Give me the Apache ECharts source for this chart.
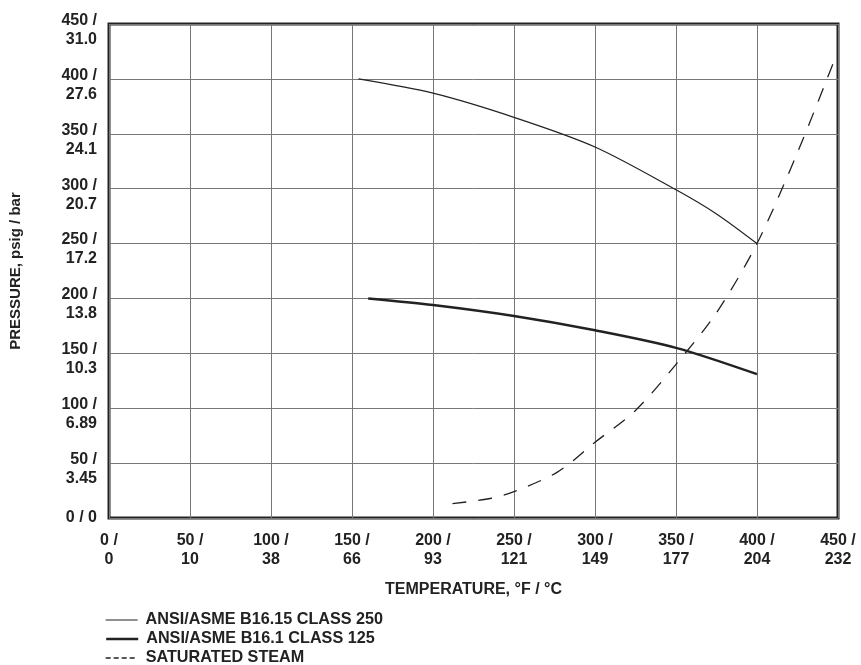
<!DOCTYPE html>
<html>
<head>
<meta charset="utf-8">
<script src="https://cdn.jsdelivr.net/npm/echarts@6/dist/echarts.min.js"></script>
<style>html,body{margin:0;padding:0;background:#fff;}#c{width:861px;height:665px;}</style>
</head>
<body>
<div id="c"></div>
<script>
// Tick labels
var xTicksF = [0, 50, 100, 150, 200, 250, 300, 350, 400, 450];
var xTicksC = ['0', '10', '38', '66', '93', '121', '149', '177', '204', '232'];
var yTicksPsig = [0, 50, 100, 150, 200, 250, 300, 350, 400, 450];
var yTicksBar = ['0', '3.45', '6.89', '10.3', '13.8', '17.2', '20.7', '24.1', '27.6', '31.0'];

// Series names
var seriesNames = ['ANSI/ASME B16.15 CLASS 250', 'ANSI/ASME B16.1 CLASS 125', 'SATURATED STEAM'];

// [temperature °F, pressure psig]
var class250 = [[154, 400], [200, 387], [250, 365], [300, 338], [350, 299], [375, 277], [400, 250]];
var class125 = [[160, 200], [200, 194], [250, 184], [300, 171], [350, 155], [400, 131]];
var steam = [[212, 13], [236, 18], [250, 24], [277, 42], [300, 69], [325, 98], [350, 140], [375, 187], [400, 250], [425, 333], [448, 418]];

var chart = echarts.init(document.getElementById('c'), null, {renderer: 'canvas'});
var FONT = '"Liberation Sans", Arial, sans-serif';
var TXT = '#222';

function legendFor(name, top, lineStyle) {
  return {
    orient: 'vertical', left: 105, top: top, padding: 0, itemWidth: 32, itemHeight: 14,
    itemStyle: {opacity: 0},
    textStyle: {fontFamily: FONT, fontWeight: 'bold', fontSize: 16.2, color: TXT, lineHeight: 14, padding: [0, 0, 0, 3]},
    data: [{name: name, lineStyle: lineStyle}]
  };
}

chart.setOption({
  animation: false,
  backgroundColor: '#fff',
  textStyle: {fontFamily: FONT},
  grid: {left: 109, right: 23, top: 24, bottom: 147, show: true, borderColor: '#222', borderWidth: 3,
         backgroundColor: 'transparent', containLabel: false, outerBoundsMode: 'none'},
  xAxis: {
    type: 'value', min: 0, max: 450, interval: 50,
    name: 'TEMPERATURE, °F / °C', nameLocation: 'middle', nameGap: 64,
    nameTextStyle: {fontFamily: FONT, fontWeight: 'bold', fontSize: 16, color: TXT},
    axisLine: {show: false}, axisTick: {show: false},
    splitLine: {show: true, lineStyle: {color: '#777', width: 1}},
    axisLabel: {
      margin: 13, fontFamily: FONT, fontWeight: 'bold', fontSize: 16, color: TXT, lineHeight: 19, align: 'center',
      formatter: function (v) { var i = xTicksF.indexOf(v); return v + ' /\n' + xTicksC[i]; }
    }
  },
  yAxis: {
    type: 'value', min: 0, max: 450, interval: 50,
    name: 'PRESSURE, psig / bar', nameLocation: 'middle', nameGap: 86, nameRotate: 90,
    nameTextStyle: {fontFamily: FONT, fontWeight: 'bold', fontSize: 15, color: TXT},
    axisLine: {show: false}, axisTick: {show: false},
    splitLine: {show: true, lineStyle: {color: '#777', width: 1}},
    axisLabel: {
      margin: 12, fontFamily: FONT, fontWeight: 'bold', fontSize: 16, color: TXT,
      formatter: function (v) {
        var i = yTicksPsig.indexOf(v);
        if (v === 0) return '{a|0 / 0}';
        return '{s| }\n{a|' + v + ' /}\n{a|' + yTicksBar[i] + '}';
      },
      rich: {
        a: {fontFamily: FONT, fontWeight: 'bold', fontSize: 16, color: TXT, lineHeight: 19, align: 'right'},
        s: {fontSize: 10, lineHeight: 12}
      }
    }
  },
  legend: [
    legendFor(seriesNames[0], 612, {width: 1.2}),
    legendFor(seriesNames[1], 631, {width: 2.4}),
    legendFor(seriesNames[2], 650, {width: 1.4, type: [5, 3]})
  ],
  series: [
    {name: seriesNames[0], type: 'line', data: class250, smooth: 0.3, showSymbol: false, symbol: 'none',
     lineStyle: {color: '#222', width: 1.2}, itemStyle: {color: '#222'}},
    {name: seriesNames[1], type: 'line', data: class125, smooth: 0.3, showSymbol: false, symbol: 'none',
     lineStyle: {color: '#222', width: 2.4}, itemStyle: {color: '#222'}},
    {name: seriesNames[2], type: 'line', data: steam, smooth: 0.3, showSymbol: false, symbol: 'none',
     lineStyle: {color: '#222', width: 1.3, type: [14, 12]}, itemStyle: {color: '#222'}}
  ]
});
</script>
</body>
</html>
